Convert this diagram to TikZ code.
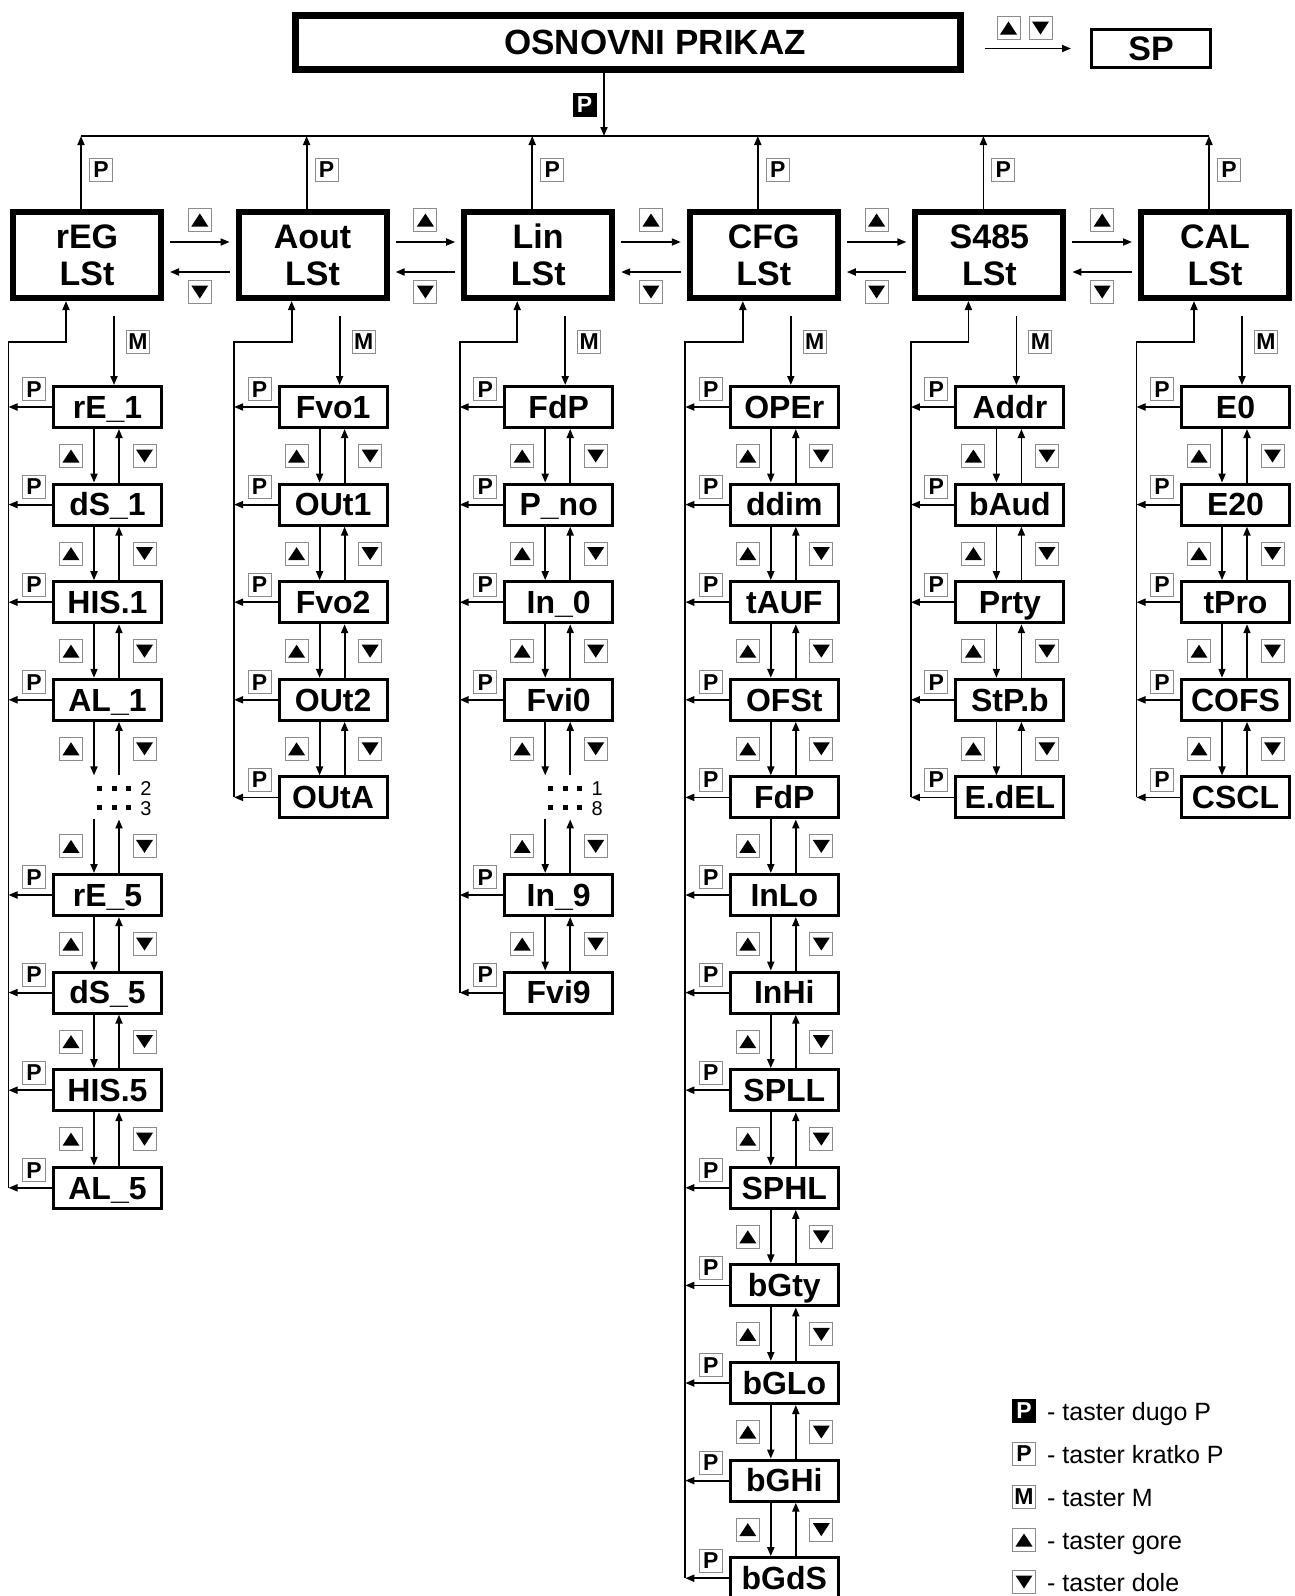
\documentclass[tikz,border=0pt]{standalone}
\usepackage{fontspec}
\setmainfont{Liberation Sans}
\usetikzlibrary{arrows.meta,calc}
\tikzset{
  conn/.style={line width=1.8pt, -{Triangle[length=9pt,width=7pt]}},
  plain/.style={line width=1.8pt},
  topbox/.style={draw, line width=6pt, minimum width=148pt, minimum height=86pt, inner sep=0pt, align=center, font=\bfseries\fontsize{34}{37}\selectfont},
  mainbox/.style={draw, line width=7pt, minimum width=665pt, minimum height=54pt, inner sep=0pt, font=\bfseries\fontsize{35}{37}\selectfont},
  spbox/.style={draw, line width=3pt, minimum width=119pt, minimum height=38pt, inner sep=0pt, font=\bfseries\fontsize{34}{34}\selectfont},
  itembox/.style={draw, line width=3pt, minimum width=108pt, minimum height=41pt, inner sep=0pt, text height=22.5pt, text depth=0pt, font=\bfseries\fontsize{32}{32}\selectfont},
  dotbox/.style={line width=3pt, minimum width=108pt, minimum height=41pt, inner sep=0pt},
  key/.style={draw=black!45, line width=1pt, fill=white, minimum width=23pt, minimum height=23pt, inner sep=0pt, font=\bfseries\fontsize{23}{23}\selectfont},
  blackkey/.style={key, fill=black, draw=black, text=white},
  upkey/.style={key, path picture={\fill[black] ([shift={(-8.5pt,-6.5pt)}]path picture bounding box.center) -- ++(17pt,0pt) -- ++(-8.5pt,13pt) -- cycle;}},
  dnkey/.style={key, path picture={\fill[black] ([shift={(-8.5pt,6.5pt)}]path picture bounding box.center) -- ++(17pt,0pt) -- ++(-8.5pt,-13pt) -- cycle;}},
  dotsq/.style={fill, minimum width=5pt, minimum height=5pt, inner sep=0pt},
  digit/.style={font=\fontsize{20}{20}\selectfont, inner sep=0pt},
  legend/.style={anchor=base west, font=\fontsize{25}{25}\selectfont, inner sep=0pt},
}
\newcommand\mkcol[3]{%
  \pgfmathsetmacro\L{10+225.6*#1}
  \coordinate (lt#1) at (\L-1.5,342);
  \coordinate (lc#1) at (\L+56,342);
  \coordinate (m#1) at (\L+104,316);
  \coordinate (dn#1) at (\L+84,0);
  \coordinate (up#1) at (\L+109,0);
  \foreach \txt/\f [count=\q from 0] in {#3} {
    \pgfmathsetmacro\cy{407+97.6*\q}
    \ifnum\f=1
      \node[itembox] (c#1r\q) at (\L+97.5,\cy) {\txt};
      \node[key] (kp#1r\q) at (\L+24,\cy-17.6) {P};
      \draw[conn] (c#1r\q.west) -- (c#1r\q.west -| lt#1);
    \else
      \node[dotbox] (c#1r\q) at (\L+97.5,\cy) {};
    \fi
  }
  \pgfmathtruncatemacro\lastm{#2-1}
  \foreach \q in {0,...,\lastm} {
    \pgfmathtruncatemacro\qn{\q+1}
    \draw[conn] (c#1r\q.south -| dn#1) -- (c#1r\qn.north -| dn#1);
    \draw[conn] (c#1r\qn.north -| up#1) -- (c#1r\q.south -| up#1);
    \pgfmathsetmacro\ky{456+97.6*\q}
    \node[upkey] (ku#1r\q) at (\L+61,\ky) {};
    \node[dnkey] (kd#1r\q) at (\L+134.5,\ky) {};
  }
  \draw[conn] (m#1) -- (c#1r0.north -| m#1);
  \node[key] (km#1) at (\L+128,341.5) {M};
  \draw[conn] (c#1r#2.west -| lt#1) -- (lt#1) -- (lc#1) -- (t#1.south -| lc#1);
}
\begin{document}
\begin{tikzpicture}[x=1pt,y=-1pt]
\useasboundingbox (0,0) rectangle (1294,1596);
\node[mainbox] (osn) at (628,42.5) {\hspace*{54pt}OSNOVNI PRIKAZ};
\node[spbox] (sp) at (1151,48.5) {SP};
\draw[conn, shorten <=21pt, shorten >=19pt] (osn.east |- sp.west) -- (sp.west);
\node[upkey] (kspu) at (1008.5,28) {};
\node[dnkey] (kspd) at (1040.5,28) {};
\coordinate (busm) at (604,136);
\draw[conn] (osn.south -| busm) -- (busm);
\node[blackkey] (kmain) at (584.5,104.5) {P};

\foreach \i/\nm in {0/rEG,1/Aout,2/Lin,3/CFG,4/S485,5/CAL} {
  \pgfmathsetmacro\L{10+225.6*\i}
  \coordinate (bus\i) at (\L+71,136);
  \node[topbox] (t\i) at (\L+77,255) {\nm\\LSt};
  \draw[conn] (t\i.north -| bus\i) -- (bus\i);
  \node[key] (kt\i) at (\L+91,169.5) {P};
}
\draw[plain] (bus0) -- (bus5);

\foreach \i [count=\j from 1] in {0,...,4} {
  \draw[conn] ([shift={(6pt,13pt)}]t\i.east) -- ([shift={(-6pt,13pt)}]t\j.west);
  \draw[conn] ([shift={(-6pt,-17pt)}]t\j.west) -- ([shift={(6pt,-17pt)}]t\i.east);
  \node[upkey] (ktu\i) at ($(t\i.east)!0.5!(t\j.west)+(0,-35)$) {};
  \node[dnkey] (ktd\i) at ($(t\i.east)!0.5!(t\j.west)+(0,37)$) {};
}

\mkcol{0}{8}{rE\_1/1,dS\_1/1,HIS.1/1,AL\_1/1,x/0,rE\_5/1,dS\_5/1,HIS.5/1,AL\_5/1}
\mkcol{1}{4}{Fvo1/1,OUt1/1,Fvo2/1,OUt2/1,OUtA/1}
\mkcol{2}{6}{FdP/1,P\_no/1,In\_0/1,Fvi0/1,x/0,In\_9/1,Fvi9/1}
\mkcol{3}{12}{OPEr/1,ddim/1,tAUF/1,OFSt/1,FdP/1,InLo/1,InHi/1,SPLL/1,SPHL/1,bGty/1,bGLo/1,bGHi/1,bGdS/1}
\mkcol{4}{4}{Addr/1,bAud/1,Prty/1,StP.b/1,E.dEL/1}
\mkcol{5}{4}{E0/1,E20/1,tPro/1,COFS/1,CSCL/1}

\foreach \i/\dA/\dB in {0/2/3,2/1/8} {
  \pgfmathsetmacro\L{10+225.6*\i}
  \foreach \dx [count=\n] in {89.5,104.5,118.5} {
    \node[dotsq] (da\i\n) at (\L+\dx,788) {};
    \node[dotsq] (db\i\n) at (\L+\dx,807) {};
  }
  \node[digit] (ga\i) at (\L+136,789) {\dA};
  \node[digit] (gb\i) at (\L+136,809) {\dB};
}

\node[blackkey] (lg1) at (1024,1411) {P};
\node[legend] (lgt1) at (1047,1420) {- taster dugo P};
\node[key] (lg2) at (1024,1454) {P};
\node[legend] (lgt2) at (1047,1463) {- taster kratko P};
\node[key] (lg3) at (1024,1497) {M};
\node[legend] (lgt3) at (1047,1506) {- taster M};
\node[upkey] (lg4) at (1024,1540) {};
\node[legend] (lgt4) at (1047,1549) {- taster gore};
\node[dnkey] (lg5) at (1024,1582) {};
\node[legend] (lgt5) at (1047,1591) {- taster dole};
\end{tikzpicture}
\end{document}
